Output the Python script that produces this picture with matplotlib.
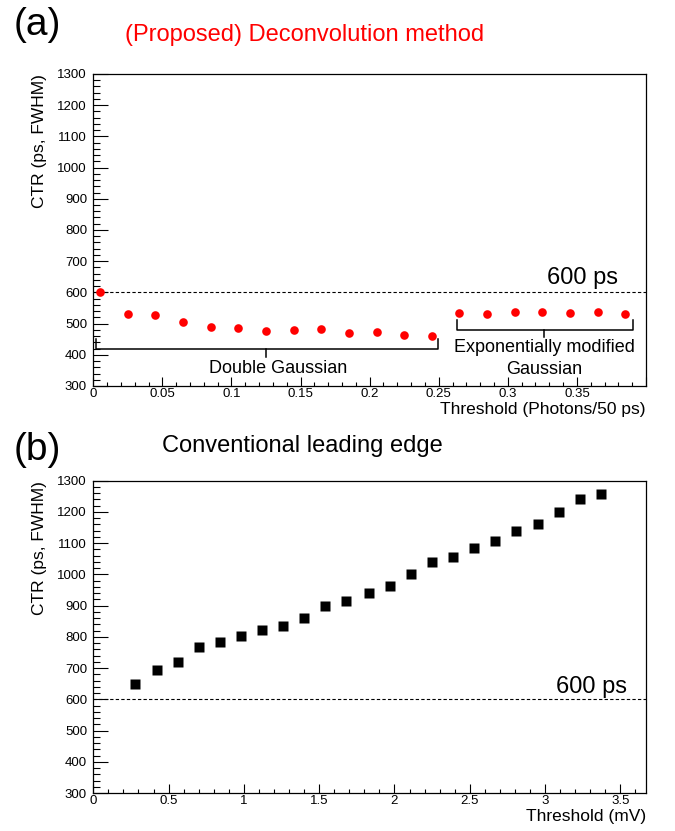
import matplotlib
matplotlib.use("Agg")
import matplotlib.pyplot as plt
from matplotlib.ticker import MultipleLocator

plt.rcParams["font.family"] = ["Liberation Sans", "DejaVu Sans"]

# (a) deconvolution method, threshold in photons / 50 ps
thr_a = [0.005, 0.025, 0.045, 0.065, 0.085, 0.105, 0.125, 0.145, 0.165, 0.185,
         0.205, 0.225, 0.245, 0.265, 0.285, 0.305, 0.325, 0.345, 0.365, 0.385]
ctr_a = [602, 530, 527, 504, 489, 485, 475, 479, 483, 470,
         473, 464, 461, 533, 532, 536, 536, 535, 536, 532]

# (b) conventional leading edge, threshold in mV
thr_b = [0.28, 0.42, 0.56, 0.70, 0.84, 0.98, 1.12, 1.26, 1.40, 1.54, 1.68, 1.83,
         1.97, 2.11, 2.25, 2.39, 2.53, 2.67, 2.81, 2.95, 3.09, 3.23, 3.37]
ctr_b = [649, 694, 720, 769, 784, 803, 822, 835, 860, 899, 916, 939,
         963, 1001, 1041, 1056, 1084, 1106, 1138, 1161, 1199, 1240, 1259]

limit = 600

fig = plt.figure(figsize=(6.75, 8.31), dpi=100)
ax_a = fig.add_axes([0.1382, 0.5355, 0.8188, 0.3755])
ax_b = fig.add_axes([0.1382, 0.0457, 0.8188, 0.3758])


def style_axis(ax, xmax, xmajor, xminor, xlabel):
    ax.set_xlim(0, xmax)
    ax.set_ylim(300, 1300)
    ax.xaxis.set_major_locator(MultipleLocator(xmajor))
    ax.xaxis.set_minor_locator(MultipleLocator(xminor))
    ax.yaxis.set_major_locator(MultipleLocator(100))
    ax.yaxis.set_minor_locator(MultipleLocator(20))
    ax.xaxis.set_major_formatter(lambda v, p: f"{v:g}" if v < xmax - 1e-6 else "")
    ax.tick_params(axis="both", which="both", direction="in",
                   top=False, right=False, labelsize=9.5, width=0.8)
    ax.tick_params(axis="y", which="major", length=10.5, pad=4.5)
    ax.tick_params(axis="y", which="minor", length=5.2)
    ax.tick_params(axis="x", which="major", length=6.5, pad=1.5)
    ax.tick_params(axis="x", which="minor", length=3.2)
    for s in ax.spines.values():
        s.set_linewidth(0.9)
    ax.set_ylabel("CTR (ps, FWHM)", fontsize=12.5, loc="top")
    ax.yaxis.set_label_coords(-0.084, 1.0)
    ax.set_xlabel(xlabel, fontsize=12.5, loc="right")
    ax.xaxis.set_label_coords(1.0, -0.052)
    ax.axhline(limit, color="black", lw=0.8, ls=(0, (3, 2)))


style_axis(ax_a, 0.4, 0.05, 0.01, "Threshold (Photons/50 ps)")
style_axis(ax_b, 3.67, 0.5, 0.1, "Threshold (mV)")

ax_a.plot(thr_a, ctr_a, "o", color="red", ms=6.2, mec="none")
ax_b.plot(thr_b, ctr_b, "s", color="black", ms=6.7, mec="none")

ax_a.text(0.354, 647, "600 ps", fontsize=17, ha="center", va="center")
ax_b.text(3.305, 640, "600 ps", fontsize=17, ha="center", va="center")

# brackets marking the two fit models
ax_a.plot([0.0023, 0.0023, 0.2493, 0.2493], [450, 420, 420, 450], color="black", lw=1.1)
ax_a.plot([0.1253, 0.1253], [420, 392], color="black", lw=1.1)
ax_a.text(0.1338, 357, "Double Gaussian", fontsize=13, ha="center", va="center")

ax_a.plot([0.263, 0.263, 0.3907, 0.3907], [512, 481, 481, 512], color="black", lw=1.1)
ax_a.plot([0.3265, 0.3265], [481, 457], color="black", lw=1.1)
ax_a.text(0.3265, 424, "Exponentially modified", fontsize=13, ha="center", va="center")
ax_a.text(0.3265, 354, "Gaussian", fontsize=13, ha="center", va="center")

fig.text(37 / 675, 1 - 25 / 831, "(a)", fontsize=28, ha="center", va="center")
fig.text(305 / 675, 1 - 35 / 831, "(Proposed) Deconvolution method",
         fontsize=17, color="red", ha="center", va="center")
fig.text(37 / 675, 1 - 450 / 831, "(b)", fontsize=28, ha="center", va="center")
fig.text(302 / 675, 1 - 446 / 831, "Conventional leading edge",
         fontsize=17, ha="center", va="center")

fig.savefig("out.png", dpi=100)
